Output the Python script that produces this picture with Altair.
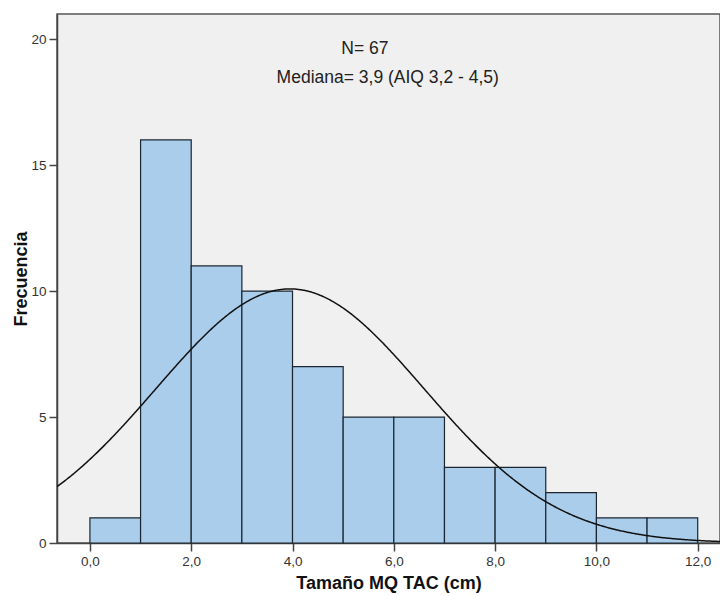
import altair as alt
import pandas as pd

# Histogram data (bin width 1)
bin_start = [0, 1, 2, 3, 4, 5, 6, 7, 8, 9, 10, 11]
counts = [1, 16, 11, 10, 7, 5, 5, 3, 3, 2, 1, 1]
BIN_W = 1.0

# Normal curve parameters
N = 67
MEAN = 3.95
SD = 2.65

x_ticks = [0, 2, 4, 6, 8, 10, 12]
y_ticks = [0, 5, 10, 15, 20]

ann_text = ["N= 67", "Mediana= 3,9 (AIQ 3,2 - 4,5)"]
ann_x = [5.43, 5.88]
ann_y = [19.63, 18.45]

X_DOM = [-0.65, 12.44]
Y_DOM = [0, 21]

bars_df = pd.DataFrame({
    "start": bin_start,
    "end": [b + BIN_W for b in bin_start],
    "count": counts,
})
ann_df = pd.DataFrame({"x": ann_x, "y": ann_y, "text": ann_text})

xscale = alt.Scale(domain=X_DOM, nice=False, zero=False)
yscale = alt.Scale(domain=Y_DOM, nice=False)

x_axis = alt.Axis(
    title="Tamaño MQ TAC (cm)", values=x_ticks,
    labelExpr="replace(format(datum.value, '.1f'), '.', ',')",
    titleFontSize=18, titleFontWeight="bold", titleColor="#111",
    titlePadding=7,
)
y_axis = alt.Axis(
    title="Frecuencia", values=y_ticks, format="d",
    titleFontSize=18, titleFontWeight="bold", titleColor="#111",
    titlePadding=0,
)

bars = alt.Chart(bars_df).mark_rect(
    fill="#AACDEB", stroke="#1c2630", strokeWidth=1.2
).encode(
    x=alt.X("start:Q", scale=xscale, axis=x_axis),
    x2="end:Q",
    y=alt.Y("count:Q", scale=yscale, axis=y_axis),
    y2=alt.datum(0),
)

curve = alt.Chart(alt.sequence(X_DOM[0], X_DOM[1] + 0.02, 0.02, as_="x")).transform_calculate(
    y=f"{N}*{BIN_W}/({SD}*sqrt(2*PI))*exp(-pow(datum.x-{MEAN},2)/(2*{SD}*{SD}))"
).mark_line(color="#111", strokeWidth=1.5, clip=True).encode(
    x=alt.X("x:Q", scale=xscale),
    y=alt.Y("y:Q", scale=yscale),
)

ann = alt.Chart(ann_df).mark_text(
    font="Liberation Sans", fontSize=17.5, color="#222", align="center", baseline="middle"
).encode(
    x=alt.X("x:Q", scale=xscale),
    y=alt.Y("y:Q", scale=yscale),
    text="text:N",
)

chart = alt.layer(bars, curve, ann).properties(
    width=663, height=529,
    autosize=alt.AutoSizeParams(type="none"),
    padding={"left": 57, "top": 14, "right": 0, "bottom": 53},
    background="white",
).configure_view(
    fill="#F0F0F0", stroke="#555", strokeWidth=1.5
).configure_axis(
    grid=False, domainColor="#444", domainWidth=1.5, tickColor="#444",
    tickSize=8, tickWidth=1.5, labelFont="Liberation Sans", titleFont="Liberation Sans",
    labelFontSize=13.5, labelColor="#333", labelPadding=3,
)

chart.save("out.html", embed_options={"renderer": "svg", "actions": False})
